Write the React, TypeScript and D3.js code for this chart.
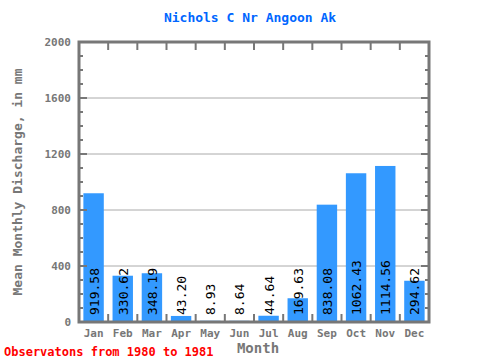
import React from "react";
import * as d3 from "d3";

const months = ["Jan", "Feb", "Mar", "Apr", "May", "Jun", "Jul", "Aug", "Sep", "Oct", "Nov", "Dec"];
const discharge = [919.58, 330.62, 348.19, 43.2, 8.93, 8.64, 44.64, 169.63, 838.08, 1062.43, 1114.56, 294.62];
const yTicks = [0, 400, 800, 1200, 1600, 2000];

const App: React.FC = () => {
  const width = 480;
  const height = 360;
  const margin = { top: 42, right: 51, bottom: 38, left: 79 };
  const mono = "'DejaVu Sans Mono', monospace";
  const axisColor = "#777777";

  const x = d3.scaleBand<string>()
    .domain(months)
    .range([margin.left, width - margin.right])
    .paddingInner(0.3)
    .paddingOuter(0.15);

  // banda completa de cada mes, para las marcas del eje
  const xb = d3.scaleBand<string>()
    .domain(months)
    .range([margin.left, width - margin.right]);

  const y = d3.scaleLinear()
    .domain([0, 2000])
    .range([height - margin.bottom, margin.top]);

  const left = margin.left;
  const right = width - margin.right;
  const top = margin.top;
  const bottom = height - margin.bottom;
  const minor = d3.range(0, 2001, 100);

  return (
    <svg width={width} height={height} style={{ position: "absolute", left: 0, top: 0, background: "#fff" }}>
      {/* Título */}
      <text x={250} y={22} textAnchor="middle" fill="#0066ff" fontFamily={mono} fontWeight="bold" fontSize={13}>
        Nichols C Nr Angoon Ak
      </text>

      {/* Rejilla */}
      {yTicks.slice(1, -1).map(t => (
        <line key={t} x1={left} x2={right} y1={y(t)} y2={y(t)} stroke="#aaaaaa" strokeWidth={1} />
      ))}

      {/* Barras */}
      {discharge.map((v, i) => (
        <rect key={months[i]} x={x(months[i])} y={y(v)} width={x.bandwidth()} height={y(0) - y(v)} fill="#3399ff" />
      ))}

      {/* Etiquetas de valor */}
      {discharge.map((v, i) => {
        const cx = (x(months[i]) ?? 0) + x.bandwidth() / 2;
        return (
          <text
            key={"v" + i}
            transform={`translate(${cx + 5},${bottom - 7}) rotate(-90)`}
            fontFamily={mono}
            fontSize={13}
            fill="#000"
          >
            {v.toFixed(2)}
          </text>
        );
      })}

      {/* Marcas menores izquierda y derecha */}
      {minor.map(t => {
        const len = t % 400 === 0 ? 8 : 4;
        return (
          <g key={"m" + t}>
            <line x1={left} x2={left + len} y1={y(t)} y2={y(t)} stroke={axisColor} strokeWidth={2} />
            <line x1={right - len} x2={right} y1={y(t)} y2={y(t)} stroke={axisColor} strokeWidth={2} />
          </g>
        );
      })}

      {/* Marcas arriba y abajo */}
      {months.slice(1).map(m => {
        const bx = xb(m) ?? 0;
        return (
          <g key={"t" + m}>
            <line x1={bx} x2={bx} y1={top} y2={top + 8} stroke={axisColor} strokeWidth={2} />
            <line x1={bx} x2={bx} y1={bottom - 8} y2={bottom} stroke={axisColor} strokeWidth={2} />
          </g>
        );
      })}

      {/* Marco */}
      <rect x={left} y={top} width={right - left} height={bottom - top} fill="none" stroke={axisColor} strokeWidth={3} />

      {/* Etiquetas eje Y */}
      {yTicks.map(t => (
        <text key={"y" + t} x={71} y={y(t) + 4} textAnchor="end" fill={axisColor} fontFamily={mono} fontWeight="bold" fontSize={11}>
          {t}
        </text>
      ))}

      {/* Etiquetas eje X */}
      {months.map(m => (
        <text
          key={"x" + m}
          x={(xb(m) ?? 0) + xb.bandwidth() / 2}
          y={337}
          textAnchor="middle"
          fill={axisColor}
          fontFamily={mono}
          fontWeight="bold"
          fontSize={11}
        >
          {m}
        </text>
      ))}

      <text x={258} y={353} textAnchor="middle" fill={axisColor} fontFamily={mono} fontWeight="bold" fontSize={14}>
        Month
      </text>

      <text
        transform={`translate(22,${(top + bottom) / 2}) rotate(-90)`}
        textAnchor="middle"
        fill={axisColor}
        fontFamily={mono}
        fontWeight="bold"
        fontSize={13}
      >
        Mean Monthly Discharge, in mm
      </text>

      <text x={4} y={356} fill="#ff0000" fontFamily={mono} fontWeight="bold" fontSize={12}>
        Observatons from 1980 to 1981
      </text>
    </svg>
  );
};

export default App;
